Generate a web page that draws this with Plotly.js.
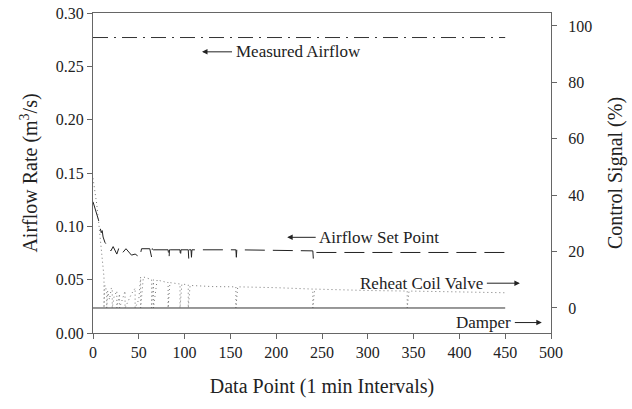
<!DOCTYPE html>
<html>
<head>
<meta charset="utf-8">
<script src="https://cdn.plot.ly/plotly-3.0.1.min.js"></script>
<style>html,body{margin:0;padding:0;background:#fff;}#chart{width:632px;height:409px;}</style>
</head>
<body>
<div id="chart"></div>
<script>
// Measured airflow (m3/s), left axis
const measuredX = [0, 450];
const measuredY = [0.277, 0.277];

// Airflow set point (m3/s), left axis
const setPointX = [0, 2, 4, 6, 8, 9, 10, 11, 13, 16, 19.5, 22, 26, 28, 31, 36, 42, 46, 51, 53,
  62, 64, 64.5, 66, 82, 83, 83.5, 85, 95, 95.5, 96, 104, 104.5, 105, 107, 107.5, 108,
  156, 156.5, 157, 240, 240.5, 241, 450];
const setPointY = [0.123, 0.118, 0.113, 0.106, 0.098, 0.094, 0.096, 0.090, 0.085, 0.081, 0.077, 0.081, 0.074, 0.079, 0.074, 0.079, 0.073, 0.074, 0.071, 0.079,
  0.079, 0.071, 0.079, 0.078, 0.078, 0.070, 0.078, 0.078, 0.078, 0.071, 0.078, 0.078, 0.070, 0.078, 0.078, 0.071, 0.078,
  0.078, 0.071, 0.078, 0.077, 0.070, 0.0755, 0.0755];

// Reheat coil valve (%), right axis
const valveX = [0, 2, 4, 6, 8, 10, 12, 12, 13, 15, 15, 16, 18, 20, 21, 21, 23, 26, 26, 29, 29, 32, 35, 35, 38, 42, 46, 46, 50, 52, 52,
  55, 60, 64, 64, 66, 66, 70, 75, 82, 82, 84, 95, 95, 97, 104, 104, 106, 130, 156, 156, 158, 200, 240, 240, 242, 300, 343, 343, 345, 400, 450];
const valveY = [46, 42, 37, 31, 24, 17, 11, 0, 8, 6, 0, 6, 3, 7, 7, 0, 4, 6, 0, 5, 0, 3, 6, 0, 2, 5, 7, 0, 3, 11, 0,
  11, 10.5, 10, 0, 10, 0, 10, 9.5, 9, 0, 9, 8.5, 0, 8.5, 8.2, 0, 8, 7.6, 7.5, 0, 7.5, 7.2, 6.7, 0, 6.7, 6.2, 6, 0, 6, 5.7, 5.4];

// Damper (%), right axis
const damperX = [0, 450];
const damperY = [0, 0];

const xTicks = [0, 50, 100, 150, 200, 250, 300, 350, 400, 450, 500];
const yTicks = [0, 0.05, 0.10, 0.15, 0.20, 0.25, 0.30];
const yTickText = ['0.00', '0.05', '0.10', '0.15', '0.20', '0.25', '0.30'];
const y2Ticks = [0, 20, 40, 60, 80, 100];

const labels = ['Measured Airflow', 'Airflow Set Point', 'Reheat Coil Valve', 'Damper'];

const serif = 'Liberation Serif';
const axisCol = '#666';
const txt = '#222';

const traces = [
  {x: measuredX, y: measuredY, mode: 'lines', line: {color: '#333', width: 1, dash: '15px,6px,2px,6px'}, yaxis: 'y'},
  {x: setPointX, y: setPointY, mode: 'lines', line: {color: '#222', width: 1, dash: '20px,8px'}, yaxis: 'y'},
  {x: valveX, y: valveY, mode: 'lines', line: {color: '#777', width: 1, dash: '1px,3px'}, yaxis: 'y2'},
  {x: damperX, y: damperY, mode: 'lines', line: {color: '#333', width: 1}, yaxis: 'y2'}
];

const af = {family: serif, size: 17, color: txt};
function arrowLabel(text, hx, hy, ax) {
  return {x: hx, y: hy, text: text, showarrow: true, ax: ax, ay: 0, arrowhead: 2, arrowsize: 1.1,
    arrowwidth: 1, arrowcolor: txt, standoff: 0, startstandoff: 3, font: af, borderpad: 0};
}
const annotations = [
  arrowLabel(labels[0], 119, 0.2636, 96),
  arrowLabel(labels[1], 212, 0.0897, 92),
  arrowLabel(labels[2], 466, 0.0467, -98),
  arrowLabel(labels[3], 490, 0.0098, -58)
];

const layout = {
  width: 632, height: 409,
  margin: {l: 93, r: 81, t: 13, b: 76},
  paper_bgcolor: '#fff', plot_bgcolor: '#fff',
  showlegend: false,
  font: {family: serif, size: 16, color: txt},
  xaxis: {
    range: [0, 500], tickvals: xTicks, ticks: 'outside', ticklen: 5, tickcolor: axisCol,
    showline: true, linecolor: axisCol, linewidth: 1, mirror: true, showgrid: false, zeroline: false,
    tickfont: {family: serif, size: 16, color: txt},
    title: {text: 'Data Point (1 min Intervals)', font: {family: serif, size: 20, color: txt}, standoff: 18}
  },
  yaxis: {
    range: [0, 0.30], tickvals: yTicks, ticktext: yTickText, ticks: 'outside', ticklen: 5, tickcolor: axisCol,
    showline: true, linecolor: axisCol, linewidth: 1, showgrid: false, zeroline: false,
    tickfont: {family: serif, size: 16, color: txt},
    title: {text: 'Airflow Rate (m<sup>3</sup>/s)', font: {family: serif, size: 20, color: txt}, standoff: 12}
  },
  yaxis2: {
    overlaying: 'y', side: 'right',
    range: [-8.87, 104.6], tickvals: y2Ticks, ticks: 'outside', ticklen: 5, tickcolor: axisCol,
    showline: true, linecolor: axisCol, linewidth: 1, showgrid: false, zeroline: false,
    tickfont: {family: serif, size: 16, color: txt}, ticklabelstandoff: 8,
    title: {text: 'Control Signal (%)', font: {family: serif, size: 20, color: txt}, standoff: 16}
  },
  annotations: annotations
};

Plotly.newPlot('chart', traces, layout, {staticPlot: true, displayModeBar: false});
</script>
</body>
</html>
